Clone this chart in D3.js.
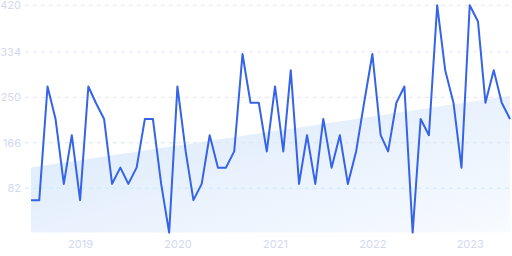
<!DOCTYPE html>
<html>
<head>
<meta charset="utf-8">
<script src="https://cdn.jsdelivr.net/npm/d3@7"></script>
<style>
  html, body { margin: 0; padding: 0; background: #fff; }
  svg { display: block; font-family: Inter, "Noto Sans", sans-serif; }
</style>
</head>
<body>
<svg id="chart"></svg>
<script>
// monthly values, Jul 2018 .. Jun 2023
const startMonth = new Date(2018, 6, 1);
const values = [
  60, 60, 270, 210, 90, 180, 60, 270, 240, 210, 90, 120,
  90, 120, 210, 210, 90, 0, 270, 150, 60, 90, 180, 120,
  120, 150, 330, 240, 240, 150, 270, 150, 300, 90, 180, 90,
  210, 120, 180, 90, 150, 240, 330, 180, 150, 240, 270, 0,
  210, 180, 420, 300, 240, 120, 420, 390, 240, 300, 240, 210
];
const yTicks = [82, 166, 250, 334, 420];
const yearTicks = ["2019", "2020", "2021", "2022", "2023"];

const width = 512, height = 256;
const months = d3.timeMonth.range(startMonth, d3.timeMonth.offset(startMonth, values.length));
const data = values.map((v, i) => ({ date: months[i], value: v, i }));

const svg = d3.select("#chart").attr("width", width).attr("height", height);

const x = d3.scaleTime()
  .domain(d3.extent(months))
  .range([31, 510]);

const y = d3.scaleLinear()
  .domain([0, 420])
  .range([232.6, 5.3]);

// gradient for trend area
const defs = svg.append("defs");
const grad = defs.append("linearGradient")
  .attr("id", "trendFill")
  .attr("x1", "0").attr("y1", "0")
  .attr("x2", "1").attr("y2", "1");
grad.append("stop").attr("offset", "0%").attr("stop-color", "#d9e8fb");
grad.append("stop").attr("offset", "100%").attr("stop-color", "#f8fbff");

// least squares trend
const n = data.length;
const mx = d3.mean(data, d => d.i), my = d3.mean(data, d => d.value);
const slope = d3.sum(data, d => (d.i - mx) * (d.value - my)) / d3.sum(data, d => (d.i - mx) ** 2);
const trend = i => my + slope * (i - mx);

svg.append("path")
  .datum(data)
  .attr("fill", "url(#trendFill)")
  .attr("d", d3.area()
    .x(d => x(d.date))
    .y0(y(0))
    .y1(d => y(trend(d.i))));

// grid lines
svg.append("g")
  .selectAll("line")
  .data(yTicks)
  .join("line")
  .attr("x1", 25)
  .attr("x2", width)
  .attr("y1", d => y(d))
  .attr("y2", d => y(d))
  .attr("stroke", d => d === 82 ? "#c9ebfb" : (d === 166 ? "#d6e6f8" : "#e3e6f6"))
  .attr("stroke-width", 1)
  .attr("stroke-dasharray", "4 4");

// y labels
svg.append("g")
  .selectAll("text")
  .data(yTicks)
  .join("text")
  .attr("x", 21)
  .attr("y", d => y(d))
  .attr("dy", "0.35em")
  .attr("text-anchor", "end")
  .style("font-size", "11px")
  .style("fill", "#d3d8f1")
  .text(d => d);

// x axis labels
const xAxis = d3.axisBottom(x)
  .tickValues(yearTicks.map(s => new Date(+s, 0, 1)))
  .tickFormat(d3.timeFormat("%Y"))
  .tickSize(0)
  .tickPadding(0);

svg.append("g")
  .attr("transform", "translate(0,240)")
  .call(xAxis)
  .call(g => g.select(".domain").remove())
  .selectAll("text")
  .attr("dy", "0.71em")
  .style("font-family", "Inter, 'Noto Sans', sans-serif")
  .style("font-size", "11px")
  .style("fill", "#d3d8f1");

// main line
svg.append("path")
  .datum(data)
  .attr("fill", "none")
  .attr("stroke", "#3563e9")
  .attr("stroke-width", 2)
  .attr("stroke-linejoin", "round")
  .attr("d", d3.line()
    .x(d => x(d.date))
    .y(d => y(d.value)));
</script>
</body>
</html>
